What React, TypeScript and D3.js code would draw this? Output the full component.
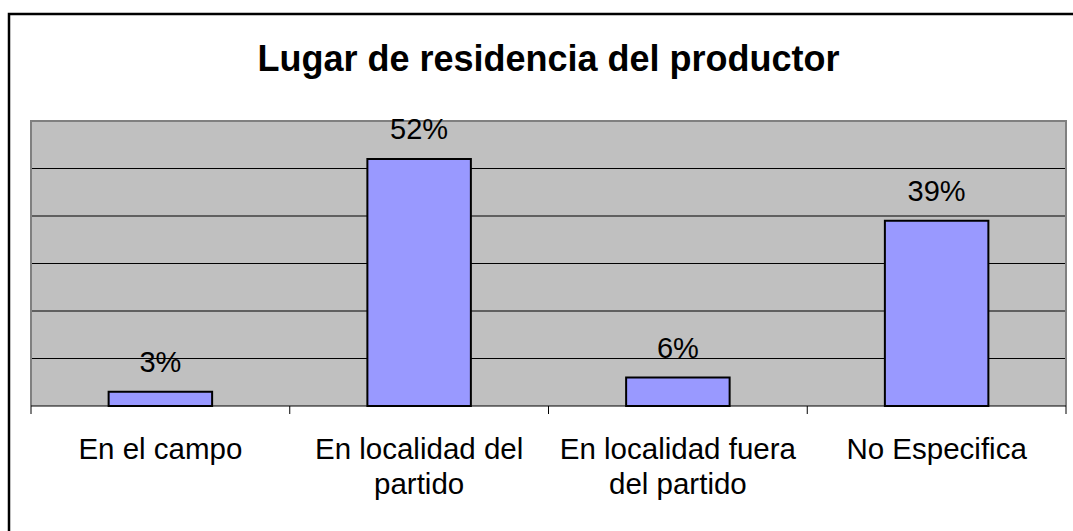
import React from 'react';
import * as d3 from 'd3';

const title = 'Lugar de residencia del productor';
const categories = ['En el campo', 'En localidad del partido', 'En localidad fuera del partido', 'No Especifica'];
const values = [0.03, 0.52, 0.06, 0.39];
const yTicks = [0, 0.1, 0.2, 0.3, 0.4, 0.5, 0.6];

const W = 1073;
const H = 531;
const plot = { left: 31, right: 1066, top: 121, bottom: 406 };
const font = '"Liberation Sans", Arial, sans-serif';

// crude word wrap, Excel breaks these labels at about 18 characters
const wrap = (s: string, max = 18) => {
  const lines: string[] = [];
  let cur = '';
  s.split(' ').forEach(w => {
    const next = cur ? cur + ' ' + w : w;
    if (next.length > max && cur) {
      lines.push(cur);
      cur = w;
    } else cur = next;
  });
  if (cur) lines.push(cur);
  return lines;
};

const App = () => {
  const x = d3.scaleBand<string>().domain(categories).range([plot.left, plot.right]).padding(0);
  const xBar = d3.scaleBand<string>().domain(categories).range([plot.left, plot.right])
    .paddingInner(0.6).paddingOuter(0.3);
  const y = d3.scaleLinear().domain([0, 0.6]).range([plot.bottom, plot.top]);
  const pct = d3.format('.0%');
  const boundaries = categories.map(c => x(c) as number).concat([plot.right]);

  return (
    <svg width={W} height={H} style={{ position: 'absolute', left: 0, top: 0, background: '#fff' }}>
      <rect x={9} y={14} width={W + 20} height={H + 20} fill="#fff" stroke="#000" strokeWidth={2.5} />
      <text x={(plot.left + plot.right) / 2} y={71} textAnchor="middle" fontFamily={font}
        fontWeight="bold" fontSize={36}>{title}</text>

      <rect x={plot.left} y={plot.top} width={plot.right - plot.left} height={plot.bottom - plot.top}
        fill="#C0C0C0" />
      {yTicks.slice(1, -1).map(t => (
        <line key={t} x1={plot.left} x2={plot.right} y1={y(t)} y2={y(t)} stroke="#000" strokeWidth={1} />
      ))}
      <path d={`M${plot.left},${plot.bottom}V${plot.top}H${plot.right}V${plot.bottom}`}
        fill="none" stroke="#808080" strokeWidth={2} />
      <line x1={plot.left} x2={plot.right} y1={plot.bottom} y2={plot.bottom} stroke="#000" strokeWidth={1.2} />
      {boundaries.map((b, i) => (
        <line key={i} x1={b} x2={b} y1={plot.bottom} y2={plot.bottom + 8} stroke="#000" strokeWidth={1} />
      ))}

      {categories.map((c, i) => (
        <g key={c}>
          <rect x={xBar(c)} y={y(values[i])} width={xBar.bandwidth()} height={plot.bottom - y(values[i])}
            fill="#9999FF" stroke="#000" strokeWidth={2} />
          <text x={(xBar(c) as number) + xBar.bandwidth() / 2} y={y(values[i]) - 20} textAnchor="middle"
            fontFamily={font} fontSize={29}>{pct(values[i])}</text>
          <text x={(x(c) as number) + x.bandwidth() / 2} y={459} textAnchor="middle" fontFamily={font} fontSize={29.5}>
            {wrap(c).map((l, j) => (
              <tspan key={j} x={(x(c) as number) + x.bandwidth() / 2} dy={j ? 35 : 0}>{l}</tspan>
            ))}
          </text>
        </g>
      ))}
    </svg>
  );
};

export default App;
